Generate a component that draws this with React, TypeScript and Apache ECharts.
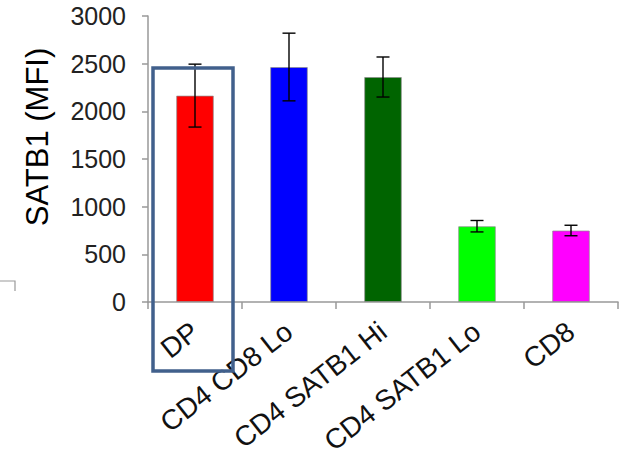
import React, { useEffect, useRef } from "react";
import * as echarts from "echarts";

const categories = ["DP", "CD4 CD8 Lo", "CD4 SATB1 Hi", "CD4 SATB1 Lo", "CD8"];
const means = [2165, 2465, 2360, 795, 750];
const errors = [330, 355, 210, 60, 55];
const barColors = ["#ff0000", "#0000ff", "#006400", "#00ff00", "#ff00ff"];
const yTicks = [0, 500, 1000, 1500, 2000, 2500, 3000];
const yTitle = "SATB1 (MFI)";

export default function App() {
  const ref = useRef<HTMLDivElement>(null);
  useEffect(() => {
    const chart = echarts.init(ref.current!, undefined, { renderer: "svg" });
    const font = "Arial";
    chart.setOption({
      animation: false,
      backgroundColor: "#ffffff",
      textStyle: { fontFamily: font },
      grid: { left: 148, right: 11, top: 16, bottom: 161, containLabel: false },
      xAxis: {
        type: "category",
        data: categories,
        axisLine: { lineStyle: { color: "#999999", width: 1.5 } },
        axisTick: { show: true, length: 7, alignWithLabel: false, lineStyle: { color: "#999999", width: 1.5 } },
        axisLabel: {
          rotate: 38,
          interval: 0,
          margin: 26,
          fontSize: 28,
          fontFamily: font,
          color: "#111111",
        },
      },
      yAxis: {
        type: "value",
        min: yTicks[0],
        max: yTicks[yTicks.length - 1],
        interval: 500,
        splitLine: { show: false },
        axisLine: { show: true, lineStyle: { color: "#999999", width: 1.5 } },
        axisTick: { show: true, length: 6, lineStyle: { color: "#999999", width: 1.5 } },
        axisLabel: {
          fontSize: 25,
          fontFamily: font,
          color: "#222222",
          margin: 22,
          formatter: (v: number) => String(v),
        },
      },
      series: [
        {
          type: "bar",
          data: means.map((v, i) => ({ value: v, itemStyle: { color: barColors[i] } })),
          barWidth: "40%",
          itemStyle: { borderColor: "rgba(140,140,140,0.7)", borderWidth: 1 },
        },
        {
          type: "custom",
          data: means.map((v, i) => [i, v - errors[i], v + errors[i]]),
          z: 10,
          renderItem: (params: any, api: any) => {
            const idx = api.value(0);
            const lo = api.coord([idx, api.value(1)]);
            const hi = api.coord([idx, api.value(2)]);
            const half = 6.5;
            const style = { stroke: "#000000", lineWidth: 1.4 };
            return {
              type: "group",
              children: [
                { type: "line", shape: { x1: lo[0], y1: lo[1], x2: hi[0], y2: hi[1] }, style },
                { type: "line", shape: { x1: hi[0] - half, y1: hi[1], x2: hi[0] + half, y2: hi[1] }, style },
                { type: "line", shape: { x1: lo[0] - half, y1: lo[1], x2: lo[0] + half, y2: lo[1] }, style },
              ],
            };
          },
        },
      ],
      graphic: [
        {
          type: "text",
          x: 37,
          y: 137,
          rotation: Math.PI / 2,
          style: {
            text: yTitle,
            font: `31px ${font}`,
            fill: "#000000",
            textAlign: "center",
            textVerticalAlign: "middle",
          },
        },
        {
          type: "rect",
          shape: { x: 153, y: 68, width: 80, height: 303 },
          style: { fill: "none", stroke: "#41608c", lineWidth: 3.5 },
          z: 20,
        },
        {
          type: "polyline",
          shape: { points: [[0, 281], [15, 281], [15, 291]] },
          style: { fill: "none", stroke: "#999999", lineWidth: 1.2 },
        },
      ],
    });
    return () => chart.dispose();
  }, []);
  return (
    <div
      ref={ref}
      style={{ position: "fixed", left: 0, top: 0, width: 629, height: 463 }}
    />
  );
}
